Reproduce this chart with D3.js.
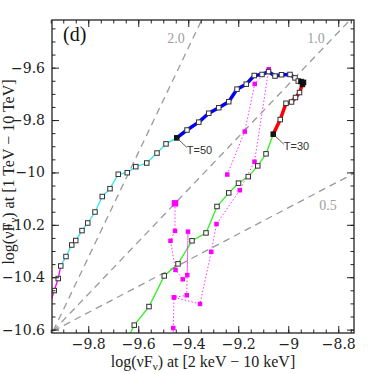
<!DOCTYPE html>
<html>
<head>
<meta charset="utf-8">
<script src="https://cdn.jsdelivr.net/npm/d3@7"></script>
<style>
  html, body { margin: 0; padding: 0; background: #fff; }
  svg { display: block; }
  text { font-family: "Liberation Serif", "DejaVu Serif", serif; }
</style>
</head>
<body>
<svg id="chart" width="374" height="374"></svg>
<script>
// axis ticks
var xTicks = [-9.8, -9.6, -9.4, -9.2, -9, -8.8];
var yTicks = [-9.6, -9.8, -10, -10.2, -10.4, -10.6];

// lower part of the track (solid magenta, no markers)
var magentaLine = [[-9.952, -10.50], [-9.936, -10.451], [-9.920, -10.405], [-9.910, -10.357]];

// cyan track (open squares), ends at T=50
var cyanTrack = [
  [-9.936, -10.451], [-9.920, -10.405], [-9.910, -10.357], [-9.889, -10.321],
  [-9.866, -10.277], [-9.850, -10.260], [-9.825, -10.222], [-9.802, -10.193],
  [-9.773, -10.151], [-9.744, -10.092], [-9.713, -10.062], [-9.680, -10.007],
  [-9.644, -10.001], [-9.610, -9.978], [-9.566, -9.964], [-9.525, -9.926],
  [-9.489, -9.891], [-9.446, -9.868]
];

// blue track, T=50 up to the peak
var blueTrack = [
  [-9.446, -9.868], [-9.405, -9.838], [-9.358, -9.808], [-9.318, -9.774],
  [-9.278, -9.753], [-9.238, -9.730], [-9.205, -9.682], [-9.168, -9.663],
  [-9.136, -9.630], [-9.105, -9.626], [-9.079, -9.615], [-9.053, -9.632],
  [-9.027, -9.627], [-8.993, -9.626], [-8.973, -9.639]
];

// thin black bit at the turnover
var blackTrack = [[-8.973, -9.639], [-8.960, -9.651], [-8.949, -9.653], [-8.939, -9.656], [-8.943, -9.664]];
var blackFilled = [[-8.949, -9.653], [-8.939, -9.656], [-8.943, -9.664]];

// red track, down to T=30
var redTrack = [
  [-8.943, -9.662], [-8.955, -9.695], [-8.971, -9.714], [-8.987, -9.731],
  [-9.009, -9.736], [-9.032, -9.798], [-9.060, -9.854]
];

// green track after T=30
var greenTrack = [
  [-9.060, -9.854], [-9.089, -9.929], [-9.122, -9.975], [-9.160, -10.016],
  [-9.199, -10.041], [-9.238, -10.078], [-9.285, -10.130], [-9.329, -10.231],
  [-9.385, -10.261], [-9.441, -10.349], [-9.496, -10.395], [-9.557, -10.512],
  [-9.616, -10.583], [-9.645, -10.64]
];
var greenMarkers = greenTrack.slice(1, 13);

// observed points (magenta, dotted)
var obsA = [[-9.244, -10.008], [-9.174, -9.844], [-9.134, -9.662], [-9.078, -9.606],
            [-9.135, -9.959], [-9.194, -10.068], [-9.287, -10.197], [-9.308, -10.303],
            [-9.353, -10.502], [-9.457, -10.477], [-9.460, -10.594], [-9.460, -10.64]];
var obsB = [[-9.453, -10.118], [-9.453, -10.223], [-9.471, -10.261], [-9.451, -10.372],
            [-9.422, -10.408], [-9.404, -10.392], [-9.401, -10.226], [-9.406, -10.469],
            [-9.457, -10.477]];
var obsBig = [[-9.453, -10.118]];

// reference slopes through the lower-left corner
var slopes = [2.0, 1.0, 0.5];
var slopeLabels = ["2.0", "1.0", "0.5"];
var pivot = [-9.94, -10.605];

var svg = d3.select("#chart");
var mLeft = 52, mRight = 354, mTop = 20, mBottom = 333;

var x = d3.scaleLinear().domain([-9.945, -8.737]).range([mLeft, mRight]);
var y = d3.scaleLinear().domain([-10.613, -9.418]).range([mBottom, mTop]);

svg.append("defs").append("clipPath").attr("id", "clip")
  .append("rect").attr("x", mLeft).attr("y", mTop)
  .attr("width", mRight - mLeft).attr("height", mBottom - mTop);

var plot = svg.append("g").attr("clip-path", "url(#clip)");

var line = d3.line().x(function(d){ return x(d[0]); }).y(function(d){ return y(d[1]); });

// dashed slope lines
slopes.forEach(function(s) {
  var x1 = -8.6;
  plot.append("path")
    .datum([pivot, [x1, pivot[1] + s * (x1 - pivot[0])]])
    .attr("d", line)
    .attr("fill", "none")
    .attr("stroke", "#9a9a9a")
    .attr("stroke-width", 1.3)
    .attr("stroke-dasharray", "7,5");
});

// tracks
plot.append("path").datum(magentaLine).attr("d", line)
  .attr("fill", "none").attr("stroke", "#ff00ff").attr("stroke-width", 1.3);
plot.append("path").datum(cyanTrack.slice(2)).attr("d", line)
  .attr("fill", "none").attr("stroke", "#22e8f0").attr("stroke-width", 1.3);
plot.append("path").datum(greenTrack).attr("d", line)
  .attr("fill", "none").attr("stroke", "#33ee22").attr("stroke-width", 1.3);
plot.append("path").datum(obsA).attr("d", line)
  .attr("fill", "none").attr("stroke", "#ff33ff").attr("stroke-width", 1).attr("stroke-dasharray", "1.5,2");
plot.append("path").datum(obsB).attr("d", line)
  .attr("fill", "none").attr("stroke", "#ff33ff").attr("stroke-width", 1).attr("stroke-dasharray", "1.5,2");
plot.append("path").datum(blueTrack).attr("d", line)
  .attr("fill", "none").attr("stroke", "#0000ff").attr("stroke-width", 3.5).attr("stroke-linejoin", "round");
plot.append("path").datum(redTrack).attr("d", line)
  .attr("fill", "none").attr("stroke", "#ff0000").attr("stroke-width", 3.5).attr("stroke-linejoin", "round");
plot.append("path").datum(blackTrack).attr("d", line)
  .attr("fill", "none").attr("stroke", "#222").attr("stroke-width", 1);

function squares(data, size, fill, stroke) {
  plot.append("g").selectAll("rect").data(data).enter().append("rect")
    .attr("x", function(d){ return x(d[0]) - size / 2; })
    .attr("y", function(d){ return y(d[1]) - size / 2; })
    .attr("width", size).attr("height", size)
    .attr("fill", fill).attr("stroke", stroke).attr("stroke-width", stroke == "none" ? 0 : 1);
}

squares(obsA.slice(0, 11), 4.5, "#ff00ff", "none");
squares(obsB, 4.5, "#ff00ff", "none");
squares(obsBig, 6.5, "#ff00ff", "none");
squares(cyanTrack.slice(0, 17), 4.5, "#fff", "#333");
squares(blueTrack.slice(1), 4.5, "#fff", "#333");
squares(blackTrack.slice(1, 2), 4.5, "#fff", "#333");
squares(redTrack.slice(1, 6), 4.5, "#fff", "#333");
squares(greenMarkers, 4.5, "#fff", "#333");
squares(blackFilled, 4.5, "#111", "#111");
squares([cyanTrack[17], redTrack[6]], 4.5, "#111", "#111");

// T labels with leader lines
var t50 = cyanTrack[17], t30 = redTrack[6];
svg.append("line").attr("x1", x(t50[0])).attr("y1", y(t50[1]))
  .attr("x2", x(t50[0]) + 10).attr("y2", y(t50[1]) + 9.5).attr("stroke", "#333").attr("stroke-width", 0.8);
svg.append("line").attr("x1", x(t30[0])).attr("y1", y(t30[1]))
  .attr("x2", x(t30[0]) + 10.5).attr("y2", y(t30[1]) + 10).attr("stroke", "#333").attr("stroke-width", 0.8);
svg.append("text").attr("x", x(t50[0]) + 10).attr("y", y(t50[1]) + 16)
  .style("font-family", "Liberation Sans, Arial, sans-serif").style("font-size", "11px").attr("fill", "#333").text("T=50");
svg.append("text").attr("x", x(t30[0]) + 10.5).attr("y", y(t30[1]) + 15.5)
  .style("font-family", "Liberation Sans, Arial, sans-serif").style("font-size", "11px").attr("fill", "#333").text("T=30");

// slope labels
var labelPos = [[176, 43], [316, 43], [328, 210]];
slopeLabels.forEach(function(s, i) {
  svg.append("text").attr("x", labelPos[i][0]).attr("y", labelPos[i][1])
    .attr("text-anchor", "middle").style("font-size", "14px").attr("fill", "#a0a0a0").text(s);
});

// axes
function fmt(d) { return String(d).replace("-", "\u2212"); }
var xMinor = d3.range(-9.95, -8.74, 0.05);
var yMinor = d3.range(-10.6, -9.40, 0.05);

function drawAxis(axis, tr) {
  var g = svg.append("g").attr("transform", tr).call(axis);
  g.select(".domain").remove();
  g.selectAll("line").attr("stroke", "#222").attr("stroke-width", 1);
  g.selectAll("text").style("font-family", "DejaVu Serif, serif").style("font-size", "14px").attr("fill", "#222");
  return g;
}

drawAxis(d3.axisBottom(x).tickValues(xTicks).tickSize(-7).tickPadding(6).tickFormat(fmt), "translate(0," + mBottom + ")");
drawAxis(d3.axisBottom(x).tickValues(xMinor).tickSize(-3.5).tickFormat(""), "translate(0," + mBottom + ")");
drawAxis(d3.axisTop(x).tickValues(xTicks).tickSize(-7).tickFormat(""), "translate(0," + mTop + ")");
drawAxis(d3.axisTop(x).tickValues(xMinor).tickSize(-3.5).tickFormat(""), "translate(0," + mTop + ")");
drawAxis(d3.axisLeft(y).tickValues(yTicks).tickSize(-7).tickPadding(7).tickFormat(fmt), "translate(" + mLeft + ",0)");
drawAxis(d3.axisLeft(y).tickValues(yMinor).tickSize(-3.5).tickFormat(""), "translate(" + mLeft + ",0)");
drawAxis(d3.axisRight(y).tickValues(yTicks).tickSize(-7).tickFormat(""), "translate(" + mRight + ",0)");
drawAxis(d3.axisRight(y).tickValues(yMinor).tickSize(-3.5).tickFormat(""), "translate(" + mRight + ",0)");

svg.append("rect").attr("x", mLeft).attr("y", mTop).attr("width", mRight - mLeft).attr("height", mBottom - mTop)
  .attr("fill", "none").attr("stroke", "#222").attr("stroke-width", 1.3);

// panel letter
svg.append("text").attr("x", 63).attr("y", 41).style("font-size", "20px").attr("fill", "#111").text("(d)");

// axis titles
var xt = svg.append("text").attr("x", 203).attr("y", 367).attr("text-anchor", "middle")
  .style("font-size", "16px").attr("fill", "#222");
xt.append("tspan").text("log(\u03BDF");
xt.append("tspan").attr("dy", 3).style("font-size", "11px").text("\u03BD");
xt.append("tspan").attr("dy", -3).text(") at [2 keV \u2212 10 keV]");

var yt = svg.append("text").attr("transform", "translate(14,172) rotate(-90)").attr("text-anchor", "middle")
  .style("font-size", "16px").attr("fill", "#222");
yt.append("tspan").text("log(\u03BDF");
yt.append("tspan").attr("dy", 3).style("font-size", "11px").text("\u03BD");
yt.append("tspan").attr("dy", -3).text(") at [1 TeV \u2212 10 TeV]");
</script>
</body>
</html>
